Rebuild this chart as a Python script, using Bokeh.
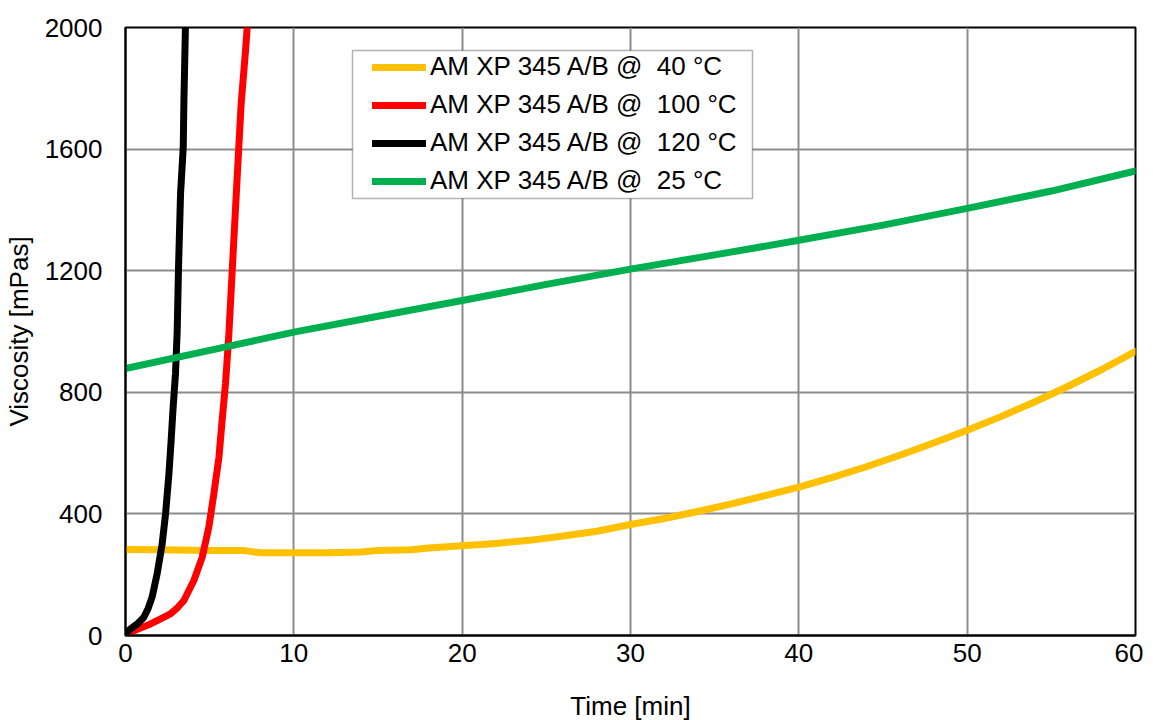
from bokeh.plotting import figure
from bokeh.models import FixedTicker, Legend, LegendItem, BoxAnnotation
from bokeh.embed import file_html
from bokeh.resources import INLINE

# ---- data ----
t40 = [0, 2, 5, 7, 8, 10, 12, 14, 15, 17, 18, 20, 22, 24, 26, 28, 30, 32, 34, 36,
       38, 40, 42, 44, 46, 48, 50, 52, 54, 56, 58, 60]
v40 = [283, 282, 280, 280, 272, 272, 272, 275, 280, 282, 288, 295, 303, 313, 327, 343,
       365, 385, 408, 433, 460, 488, 520, 555, 593, 633, 675, 720, 768, 820, 875, 935]

t100 = [0, 0.5, 1.0, 1.49, 2.0, 2.67, 3.1, 3.47, 4.06, 4.56, 4.95, 5.25, 5.55, 5.74,
        5.94, 6.14, 6.34, 6.54, 6.73, 6.87, 7.13, 7.23]
v100 = [5, 16, 27, 38, 52, 71, 92, 115, 181, 258, 356, 466, 586, 707, 828, 990, 1201,
        1409, 1606, 1749, 1924, 2000]

t120 = [0, 0.3, 0.7, 1.09, 1.35, 1.58, 1.88, 2.18, 2.38, 2.58, 2.71, 2.83, 2.97, 3.07,
        3.15, 3.27, 3.43, 3.47, 3.56]
v120 = [8, 22, 38, 60, 90, 126, 203, 302, 400, 532, 641, 751, 861, 1000, 1211, 1453,
        1606, 1760, 2000]

t25 = [0, 5, 10, 15, 20, 25, 30, 35, 40, 45, 50, 55, 60]
v25 = [878, 938, 998, 1050, 1102, 1155, 1205, 1252, 1300, 1350, 1405, 1462, 1528]

labels = ["AM XP 345 A/B @  40 °C", "AM XP 345 A/B @  100 °C",
          "AM XP 345 A/B @  120 °C", "AM XP 345 A/B @  25 °C"]
x_ticks = [0, 10, 20, 30, 40, 50, 60]
y_ticks = [0, 400, 800, 1200, 1600, 2000]

FONT = "Liberation Sans"
FS = "26px"

p = figure(output_backend="svg", toolbar_location=None,
           frame_width=1010, frame_height=608,
           x_range=(0, 60), y_range=(0, 2000),
           min_border_left=120, min_border_right=8,
           min_border_top=27, min_border_bottom=60)

LW = 7
kw = dict(line_width=LW, line_cap="round", line_join="round")
r40 = p.line(t40, v40, line_color="#FFC000", **kw)
r100 = p.line(t100, v100, line_color="#FF0000", **kw)
r120 = p.line(t120, v120, line_color="#000000", **kw)
r25 = p.line(t25, v25, line_color="#00B050", **kw)

p.xaxis.ticker = FixedTicker(ticks=x_ticks)
p.yaxis.ticker = FixedTicker(ticks=y_ticks)
p.xgrid.ticker = FixedTicker(ticks=x_ticks)
p.ygrid.ticker = FixedTicker(ticks=y_ticks)

for g in (p.xgrid, p.ygrid):
    g.grid_line_color = "#8c8c8c"
    g.grid_line_width = 2

for ax in (p.xaxis, p.yaxis):
    ax.major_tick_line_color = None
    ax.minor_tick_line_color = None
    ax.axis_line_color = "black"
    ax.axis_line_width = 2
    ax.major_label_text_font = FONT
    ax.major_label_text_font_size = FS
    ax.major_label_text_color = "black"
    ax.axis_label_text_font = FONT
    ax.axis_label_text_font_size = FS
    ax.axis_label_text_font_style = "normal"
    ax.axis_label_text_color = "black"

p.xaxis.axis_label = "Time [min]"
p.yaxis.axis_label = "Viscosity [mPas]"
p.xaxis.major_label_standoff = 2
p.yaxis.major_label_standoff = 17
p.xaxis.axis_label_standoff = 26
p.yaxis.axis_label_standoff = 8

p.outline_line_color = "black"
p.outline_line_width = 2
p.background_fill_color = "white"
p.border_fill_color = "white"

# legend frame
box = BoxAnnotation(left=227, right=627, bottom=437, top=585,
                    left_units="screen", right_units="screen",
                    bottom_units="screen", top_units="screen",
                    fill_color="white", fill_alpha=1.0,
                    line_color="black", line_width=1.5, level="overlay")
p.add_layout(box)

legend = Legend(items=[LegendItem(label=labels[0], renderers=[r40]),
                       LegendItem(label=labels[1], renderers=[r100]),
                       LegendItem(label=labels[2], renderers=[r120]),
                       LegendItem(label=labels[3], renderers=[r25])],
                location=(247, 439))
legend.label_text_font = FONT
legend.label_text_font_size = FS
legend.label_text_color = "black"
legend.glyph_width = 54
legend.glyph_height = 28
legend.label_height = 28
legend.label_standoff = 4
legend.spacing = 7
legend.padding = 0
legend.margin = 0
legend.border_line_alpha = 0
legend.background_fill_alpha = 0
p.add_layout(legend, "center")

open("out.html", "w").write(file_html(p, INLINE))
